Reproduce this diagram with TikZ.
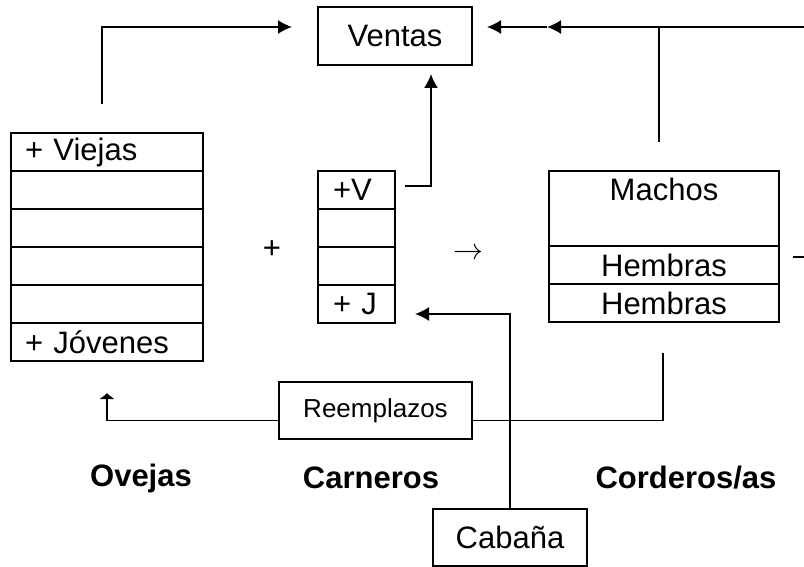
\documentclass[tikz,border=0pt]{standalone}
\usepackage{fontspec}
\usepackage{graphicx}
\setmainfont{Liberation Sans}
\usetikzlibrary{arrows.meta,positioning,calc}

\newcommand{\mainsize}{\fontsize{31}{36}\selectfont}
\newcommand{\remsize}{\fontsize{26}{30}\selectfont}

\tikzset{
  box/.style={draw, line width=1.8pt, inner sep=0pt, outer sep=0pt, font=\mainsize},
  ovrow/.style={box, minimum width=192pt, minimum height=38pt, text width=164pt, align=left},
  carrow/.style={box, minimum width=77pt, minimum height=38pt, text width=47pt, align=left},
  corrow/.style={box, minimum width=230pt, minimum height=38pt},
  flow/.style={line width=1.6pt, -{Latex[length=14pt,width=14pt]}},
  stub/.style={line width=1.6pt, -{Latex[length=6pt,width=16pt]}},
  link/.style={line width=1.6pt}
}

\begin{document}
\begin{tikzpicture}[x=1pt,y=-1pt]
\useasboundingbox (0,0) rectangle (804,567);

% sales box
\node[box, minimum width=154pt, minimum height=58pt] (ventas) at (395,36) {Ventas};

% ewes
\node[ovrow] (ov1) at (107,152) {+ Viejas};
\node[ovrow, below=0pt of ov1] (ov2) {};
\node[ovrow, below=0pt of ov2] (ov3) {};
\node[ovrow, below=0pt of ov3] (ov4) {};
\node[ovrow, below=0pt of ov4] (ov5) {};
\node[ovrow, below=0pt of ov5] (ov6) {+ Jóvenes};

% rams
\node[carrow] (car1) at (356.5,190) {+V};
\node[carrow, below=0pt of car1] (car2) {};
\node[carrow, below=0pt of car2] (car3) {};
\node[carrow, below=0pt of car3] (car4) {+ J};

% lambs
\node[corrow, minimum height=75pt, label={[anchor=north, font=\mainsize, inner sep=7pt]north:Machos}] (machos) at (664,208.5) {};
\node[corrow, below=0pt of machos] (hem1) {Hembras};
\node[corrow, below=0pt of hem1] (hem2) {Hembras};

% signs between the groups
\node[font=\mainsize] (plus) at (272,250) {+};
\node (becomes) at (468,254) {\resizebox{30pt}{!}{$\rightarrow$}};

% replacements and stud
\node[box, font=\remsize, minimum width=193pt, minimum height=57pt] (reemp) at (375.5,410.5) {Reemplazos};
\node[box, minimum width=154pt, minimum height=57pt] (cabana) at (510,537.5) {Cabaña};

% group names
\node[font=\mainsize\bfseries] (ovejas) at (141,478) {Ovejas};
\node[font=\mainsize\bfseries] (carneros) at (371,478) {Carneros};
\node[font=\mainsize\bfseries] (corderos) at (686,478) {Corderos/as};

% flows to sales
\coordinate (ovup) at ($(ov1.north)+(-5,-29)$);
\draw[flow] (ovup) |- ($(ventas.west)+(-26,-9)$);
\coordinate (topright) at (804,27);
\coordinate (split) at (547,27);
\draw[flow] (topright) -- (split);
\draw[flow] (split) -- ($(ventas.east)+(15,-9)$);
\coordinate (machup) at ($(machos.north)+(-5,-29)$);
\draw[link] (machup) -- (machup |- split);
\coordinate (carout) at ($(car1.east)+(10,-4)$);
\draw[flow] (carout) -| ($(ventas.south)+(36,9)$);

% flows back in
\draw[flow] (cabana.north) |- ($(car4.east)+(20,10)$);
\draw[stub] ($(reemp.west)+(0,10)$) -| ($(ov6.south)+(0,32)$);
\draw[link] ($(reemp.east)+(0,10)$) -| ($(hem2.south)+(-1,31)$);
\draw[link] ($(hem1.east)+(14,-8)$) -- ++(11,0);
\end{tikzpicture}
\end{document}
